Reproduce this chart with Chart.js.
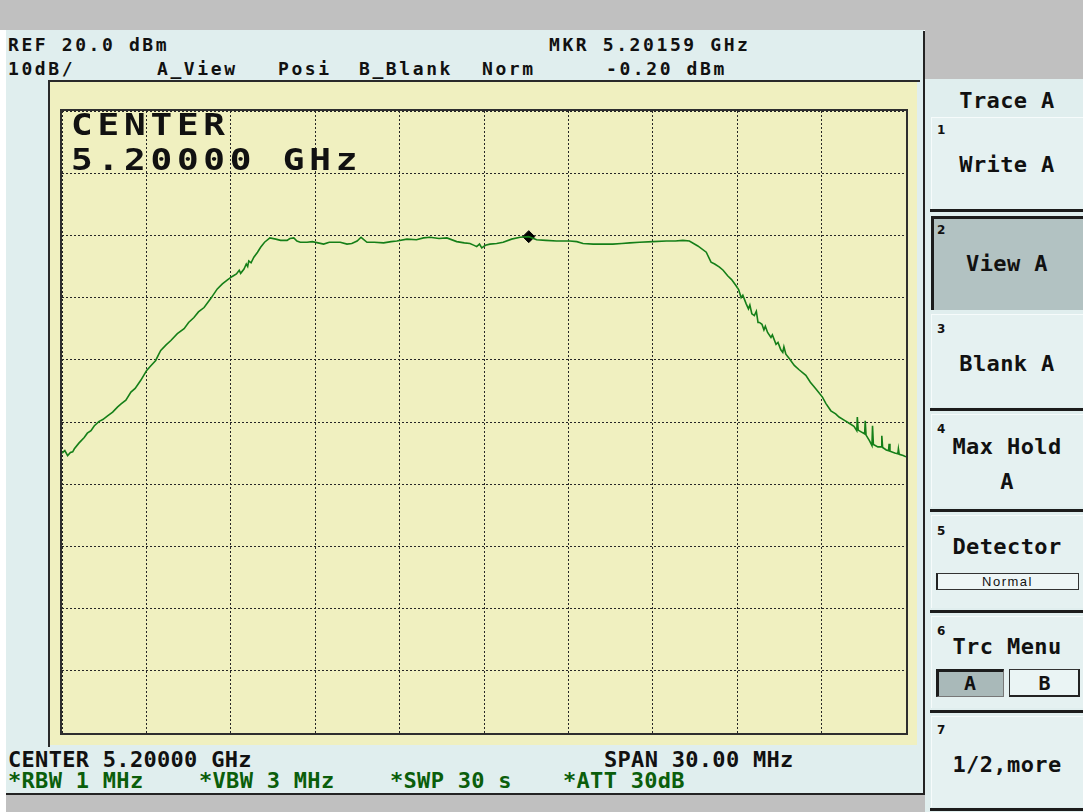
<!DOCTYPE html>
<html>
<head>
<meta charset="utf-8">
<script src="https://cdn.jsdelivr.net/npm/chart.js@4.4.1/dist/chart.umd.min.js"></script>
<style>
  html, body { margin: 0; padding: 0; }
  body { width: 1083px; height: 812px; position: relative; overflow: hidden; background: #ffffff; }
  .box { position: absolute; }
  .t { position: absolute; font-family: "DejaVu Sans Mono", monospace; font-weight: bold; line-height: 1; white-space: pre; color: #111; }
  .hdr { font-size: 18px; letter-spacing: 2.6px; }
  .bot { font-size: 22px; letter-spacing: 0.3px; }
  .grn { color: #0b5e0b; }
  .key { font-size: 22px; letter-spacing: 0.4px; width: 152px; left: 931px; text-align: center; }
  .num { font-family: "DejaVu Sans", sans-serif; font-size: 12px; left: 937px; }
  .big { font-size: 30px; letter-spacing: 4px; transform: scaleX(1.2); transform-origin: left top; left: 71px; }
  .sep { position: absolute; left: 930px; width: 153px; height: 3px; background: #1c1c1c; }
  .soft { position: absolute; left: 931px; width: 152px; background: #e5f1f1; border-top: 1px solid #f6fbfb; border-left: 1px solid #f6fbfb; box-sizing: border-box; }
</style>
</head>
<body>
<!-- screen frame -->
<div class="box" style="left:0;top:0;width:1083px;height:30px;background:#c0c0c0"></div>
<div class="box" style="left:6px;top:30px;width:918px;height:764px;background:#e0eeee"></div>
<div class="box" style="left:923px;top:31px;width:2px;height:764px;background:#222"></div>
<div class="box" style="left:6px;top:793px;width:918px;height:2px;background:#222"></div>
<div class="box" style="left:6px;top:795px;width:919px;height:17px;background:#c0c0c0"></div>

<!-- graticule frame -->
<div class="box" style="left:48px;top:80px;width:872px;height:2px;background:#2a2a2a"></div>
<div class="box" style="left:48px;top:80px;width:2px;height:667px;background:#2a2a2a"></div>
<div class="box" style="left:50px;top:82px;width:867px;height:663px;background:#f0f0c0"></div>

<!-- softkey panel -->
<div class="box" style="left:925px;top:30px;width:158px;height:49px;background:#c0c0c0"></div>
<div class="box" style="left:925px;top:79px;width:158px;height:733px;background:#e0eeee"></div>
<div class="soft" style="top:117px;height:92px"></div>
<div class="sep" style="top:209px"></div>
<div class="box" style="left:931px;top:216px;width:152px;height:94px;background:#b2c2c2;border-left:3px solid #1c1c1c;border-top:3px solid #1c1c1c;box-sizing:border-box"></div>
<div class="soft" style="top:314px;height:93px"></div>
<div class="sep" style="top:408px"></div>
<div class="soft" style="top:414px;height:93px"></div>
<div class="sep" style="top:509px"></div>
<div class="soft" style="top:515px;height:93px"></div>
<div class="sep" style="top:610px"></div>
<div class="soft" style="top:616px;height:92px"></div>
<div class="sep" style="top:710px"></div>
<div class="soft" style="top:716px;height:91px"></div>
<div class="sep" style="top:808px"></div>

<div class="box" style="left:936px;top:573px;width:143px;height:17px;border:1px solid #333;border-left:2px solid #222;box-sizing:border-box;background:#eef6f6"></div>
<div class="box" style="left:936px;top:669px;width:68px;height:28px;background:#a9b9b9;border-left:3px solid #1c1c1c;border-top:3px solid #1c1c1c;border-right:1px solid #777;border-bottom:1px solid #777;box-sizing:border-box"></div>
<div class="box" style="left:1009px;top:669px;width:71px;height:28px;background:#eaf4f4;border:1px solid #333;border-right:2px solid #222;border-bottom:2px solid #222;box-sizing:border-box"></div>

<!-- chart -->
<div class="box" style="left:55px;top:104px;width:858px;height:636px">
  <canvas id="trace" width="858" height="636"></canvas>
</div>
<div class="box" style="left:60px;top:109px;width:848px;height:626px;border:2px solid #2e2e2e;box-sizing:border-box"></div>

<!-- header texts -->
<div class="t hdr" style="left:8px;top:36px">REF 20.0 dBm</div>
<div class="t hdr" style="left:549px;top:36px">MKR 5.20159 GHz</div>
<div class="t hdr" style="left:8px;top:60px">10dB/</div>
<div class="t hdr" style="left:157px;top:60px">A_View</div>
<div class="t hdr" style="left:278px;top:60px">Posi</div>
<div class="t hdr" style="left:359px;top:60px">B_Blank</div>
<div class="t hdr" style="left:482px;top:60px">Norm</div>
<div class="t hdr" style="left:606px;top:60px">-0.20 dBm</div>

<!-- center annotation inside graticule -->
<div class="t big" style="top:110px">CENTER</div>
<div class="t big" style="top:145px">5.20000 GHz</div>

<!-- footer texts -->
<div class="t bot" style="left:8px;top:749px">CENTER 5.20000 GHz</div>
<div class="t bot" style="left:604px;top:749px">SPAN 30.00 MHz</div>
<div class="t bot grn" style="left:8px;top:770px">*RBW 1 MHz</div>
<div class="t bot grn" style="left:199px;top:770px">*VBW 3 MHz</div>
<div class="t bot grn" style="left:390px;top:770px">*SWP 30 s</div>
<div class="t bot grn" style="left:563px;top:770px">*ATT 30dB</div>

<!-- softkey labels -->
<div class="t key" style="top:90px">Trace A</div>
<div class="t num" style="top:124px">1</div>
<div class="t key" style="top:154px">Write A</div>
<div class="t num" style="top:224px">2</div>
<div class="t key" style="top:253px">View A</div>
<div class="t num" style="top:323px">3</div>
<div class="t key" style="top:353px">Blank A</div>
<div class="t num" style="top:423px">4</div>
<div class="t key" style="top:436px">Max Hold</div>
<div class="t key" style="top:471px">A</div>
<div class="t num" style="top:525px">5</div>
<div class="t key" style="top:536px">Detector</div>
<div class="t" style="left:936px;top:575px;width:143px;text-align:center;font-family:'Liberation Sans',sans-serif;font-weight:normal;font-size:13px;letter-spacing:1.5px">Normal</div>
<div class="t num" style="top:625px">6</div>
<div class="t key" style="top:636px">Trc Menu</div>
<div class="t" style="left:936px;top:673px;width:68px;text-align:center;font-size:20px">A</div>
<div class="t" style="left:1009px;top:673px;width:71px;text-align:center;font-size:20px">B</div>
<div class="t num" style="top:724px">7</div>
<div class="t key" style="top:754px">1/2,more</div>

<script>
// analyzer settings
const centerMHz = 5200;
const spanMHz = 30;
const refLevel = 20;
const bottomLevel = -80;
const dbPerDiv = 10;
const mhzPerDiv = 3;

// trace A, frequency as offset from the left edge (MHz), level in dBm
const lowerSkirtOffset = [0.00, 0.10, 0.20, 0.30, 0.38, 0.44, 0.60, 0.79, 0.90, 1.03, 1.15, 1.32, 1.45, 1.62, 1.80, 1.97, 2.10, 2.27,
  2.45, 2.60, 2.80, 3.01, 3.15, 3.33, 3.45, 3.51, 3.70, 3.87, 4.10, 4.34, 4.50, 4.69, 4.85, 5.05, 5.28, 5.40, 5.52, 5.70, 5.87, 6.05,
  6.20, 6.30, 6.35, 6.47, 6.55, 6.60, 6.64, 6.72, 6.82, 6.95, 7.06, 7.20, 7.39];
const lowerSkirtLevel = [-35.0, -34.6, -35.4, -34.9, -34.8, -34.3, -33.4, -32.5, -31.8, -31.4, -30.6, -29.9, -29.6, -29.0, -28.4, -27.6, -27.1, -26.5,
  -25.2, -24.6, -23.3, -21.7, -21.0, -20.1, -19.0, -18.5, -17.6, -16.9, -15.8, -15.0, -14.0, -13.2, -12.3, -11.6, -10.2, -9.4, -8.6, -7.8, -7.2, -6.6,
  -6.2, -5.6, -6.1, -5.4, -4.6, -5.0, -4.1, -4.4, -3.5, -2.7, -1.9, -1.1, -0.4];

const passbandOffset = [7.60, 7.77, 8.00, 8.10, 8.24, 8.35, 8.47, 8.71, 8.90, 9.10, 9.30, 9.50, 9.89, 10.13, 10.30, 10.49, 10.63, 10.84,
  11.10, 11.43, 11.70, 11.90, 12.26, 12.60, 12.85, 13.08, 13.40, 13.68, 14.03, 14.30, 14.50, 14.65, 14.74, 14.84, 14.92, 15.05, 15.21,
  15.45, 15.68, 15.98, 16.28, 16.59, 16.87, 17.20, 17.58, 18.05, 18.30, 18.52, 18.88, 19.20, 19.58, 19.90, 20.18, 20.53, 21.00, 21.48,
  21.80, 22.07, 22.30];
const passbandLevel = [-0.6, -0.8, -0.8, -0.5, -0.4, -0.9, -1.1, -1.1, -1.0, -1.2, -1.4, -1.1, -1.1, -1.4, -1.3, -0.9, -0.3, -1.1,
  -1.1, -1.2, -1.0, -0.9, -0.6, -0.7, -0.4, -0.3, -0.5, -0.4, -1.0, -1.2, -1.3, -1.6, -1.8, -1.4, -2.0, -1.6, -1.4,
  -1.3, -1.1, -0.6, -0.3, -0.2, -0.7, -0.8, -0.9, -0.9, -1.0, -1.3, -1.4, -1.4, -1.4, -1.3, -1.2, -1.1, -1.0, -0.9,
  -0.9, -0.8, -0.9];

const upperSkirtOffset = [22.60, 22.90, 23.07, 23.20, 23.37, 23.50, 23.66, 23.80, 23.96, 24.05, 24.14, 24.20, 24.32, 24.40, 24.45, 24.52,
  24.61, 24.68, 24.74, 24.79, 24.88, 24.95, 25.00, 25.08, 25.20, 25.25, 25.38, 25.45, 25.55, 25.62, 25.66, 25.73, 25.85, 26.03, 26.20,
  26.44, 26.60, 26.80, 27.03, 27.15, 27.33, 27.50, 27.62, 27.80, 27.98, 28.15, 28.25, 28.27, 28.30, 28.45, 28.53, 28.55, 28.58, 28.70,
  28.79, 28.81, 28.84, 29.00, 29.12, 29.14, 29.17, 29.30, 29.38, 29.40, 29.43, 29.60, 29.71, 29.73, 29.76, 29.90, 30.00];
const upperSkirtLevel = [-1.7, -2.7, -4.3, -4.6, -5.1, -5.6, -6.5, -7.1, -8.1, -8.7, -10.0, -9.6, -11.0, -11.8, -11.2, -12.6,
  -12.9, -12.2, -14.0, -14.0, -14.3, -15.2, -14.6, -15.6, -16.4, -16.0, -17.5, -17.2, -18.4, -18.8, -17.9, -19.1, -19.8, -20.9, -21.6,
  -22.5, -23.6, -24.7, -26.0, -27.0, -28.2, -28.7, -29.2, -29.7, -30.2, -30.7, -31.4, -29.2, -31.3, -31.7, -31.9, -29.8, -32.1, -33.0,
  -33.8, -30.6, -33.6, -34.0, -34.0, -32.2, -34.1, -34.5, -34.6, -33.5, -34.7, -35.0, -35.1, -34.3, -35.2, -35.4, -35.6];

// marker 5.20159 GHz / -0.20 dBm
const markerOffset = 16.59;
const markerLevel = -0.2;

const traceOffsets = lowerSkirtOffset.concat(passbandOffset, upperSkirtOffset);
const traceLevels = lowerSkirtLevel.concat(passbandLevel, upperSkirtLevel);
const tracePoints = traceOffsets.map((f, i) => ({ x: f, y: traceLevels[i] }));

const gridOpts = { color: "#262626", lineWidth: 1, drawTicks: false };
const borderOpts = { display: false, dash: [2, 2] };

const config = {
  type: "scatter",
  data: {
    datasets: [
      {
        label: "Trace A",
        data: tracePoints,
        showLine: true,
        borderColor: "#157f18",
        borderWidth: 1.6,
        pointRadius: 0,
        tension: 0,
      },
      {
        label: "Marker",
        data: [{ x: markerOffset, y: markerLevel }],
        pointStyle: "rectRot",
        pointRadius: 6,
        backgroundColor: "#000",
        borderColor: "#000",
        showLine: false,
      },
    ],
  },
  options: {
    responsive: false,
    animation: false,
    devicePixelRatio: 1,
    layout: { padding: 6 },
    plugins: { legend: { display: false }, tooltip: { enabled: false } },
    scales: {
      x: {
        type: "linear",
        min: 0,
        max: spanMHz,
        ticks: { display: false, stepSize: mhzPerDiv },
        grid: gridOpts,
        border: borderOpts,
      },
      y: {
        type: "linear",
        min: bottomLevel,
        max: refLevel,
        ticks: { display: false, stepSize: dbPerDiv },
        grid: gridOpts,
        border: borderOpts,
      },
    },
  },
};

new Chart(document.getElementById("trace"), config);
</script>
</body>
</html>
